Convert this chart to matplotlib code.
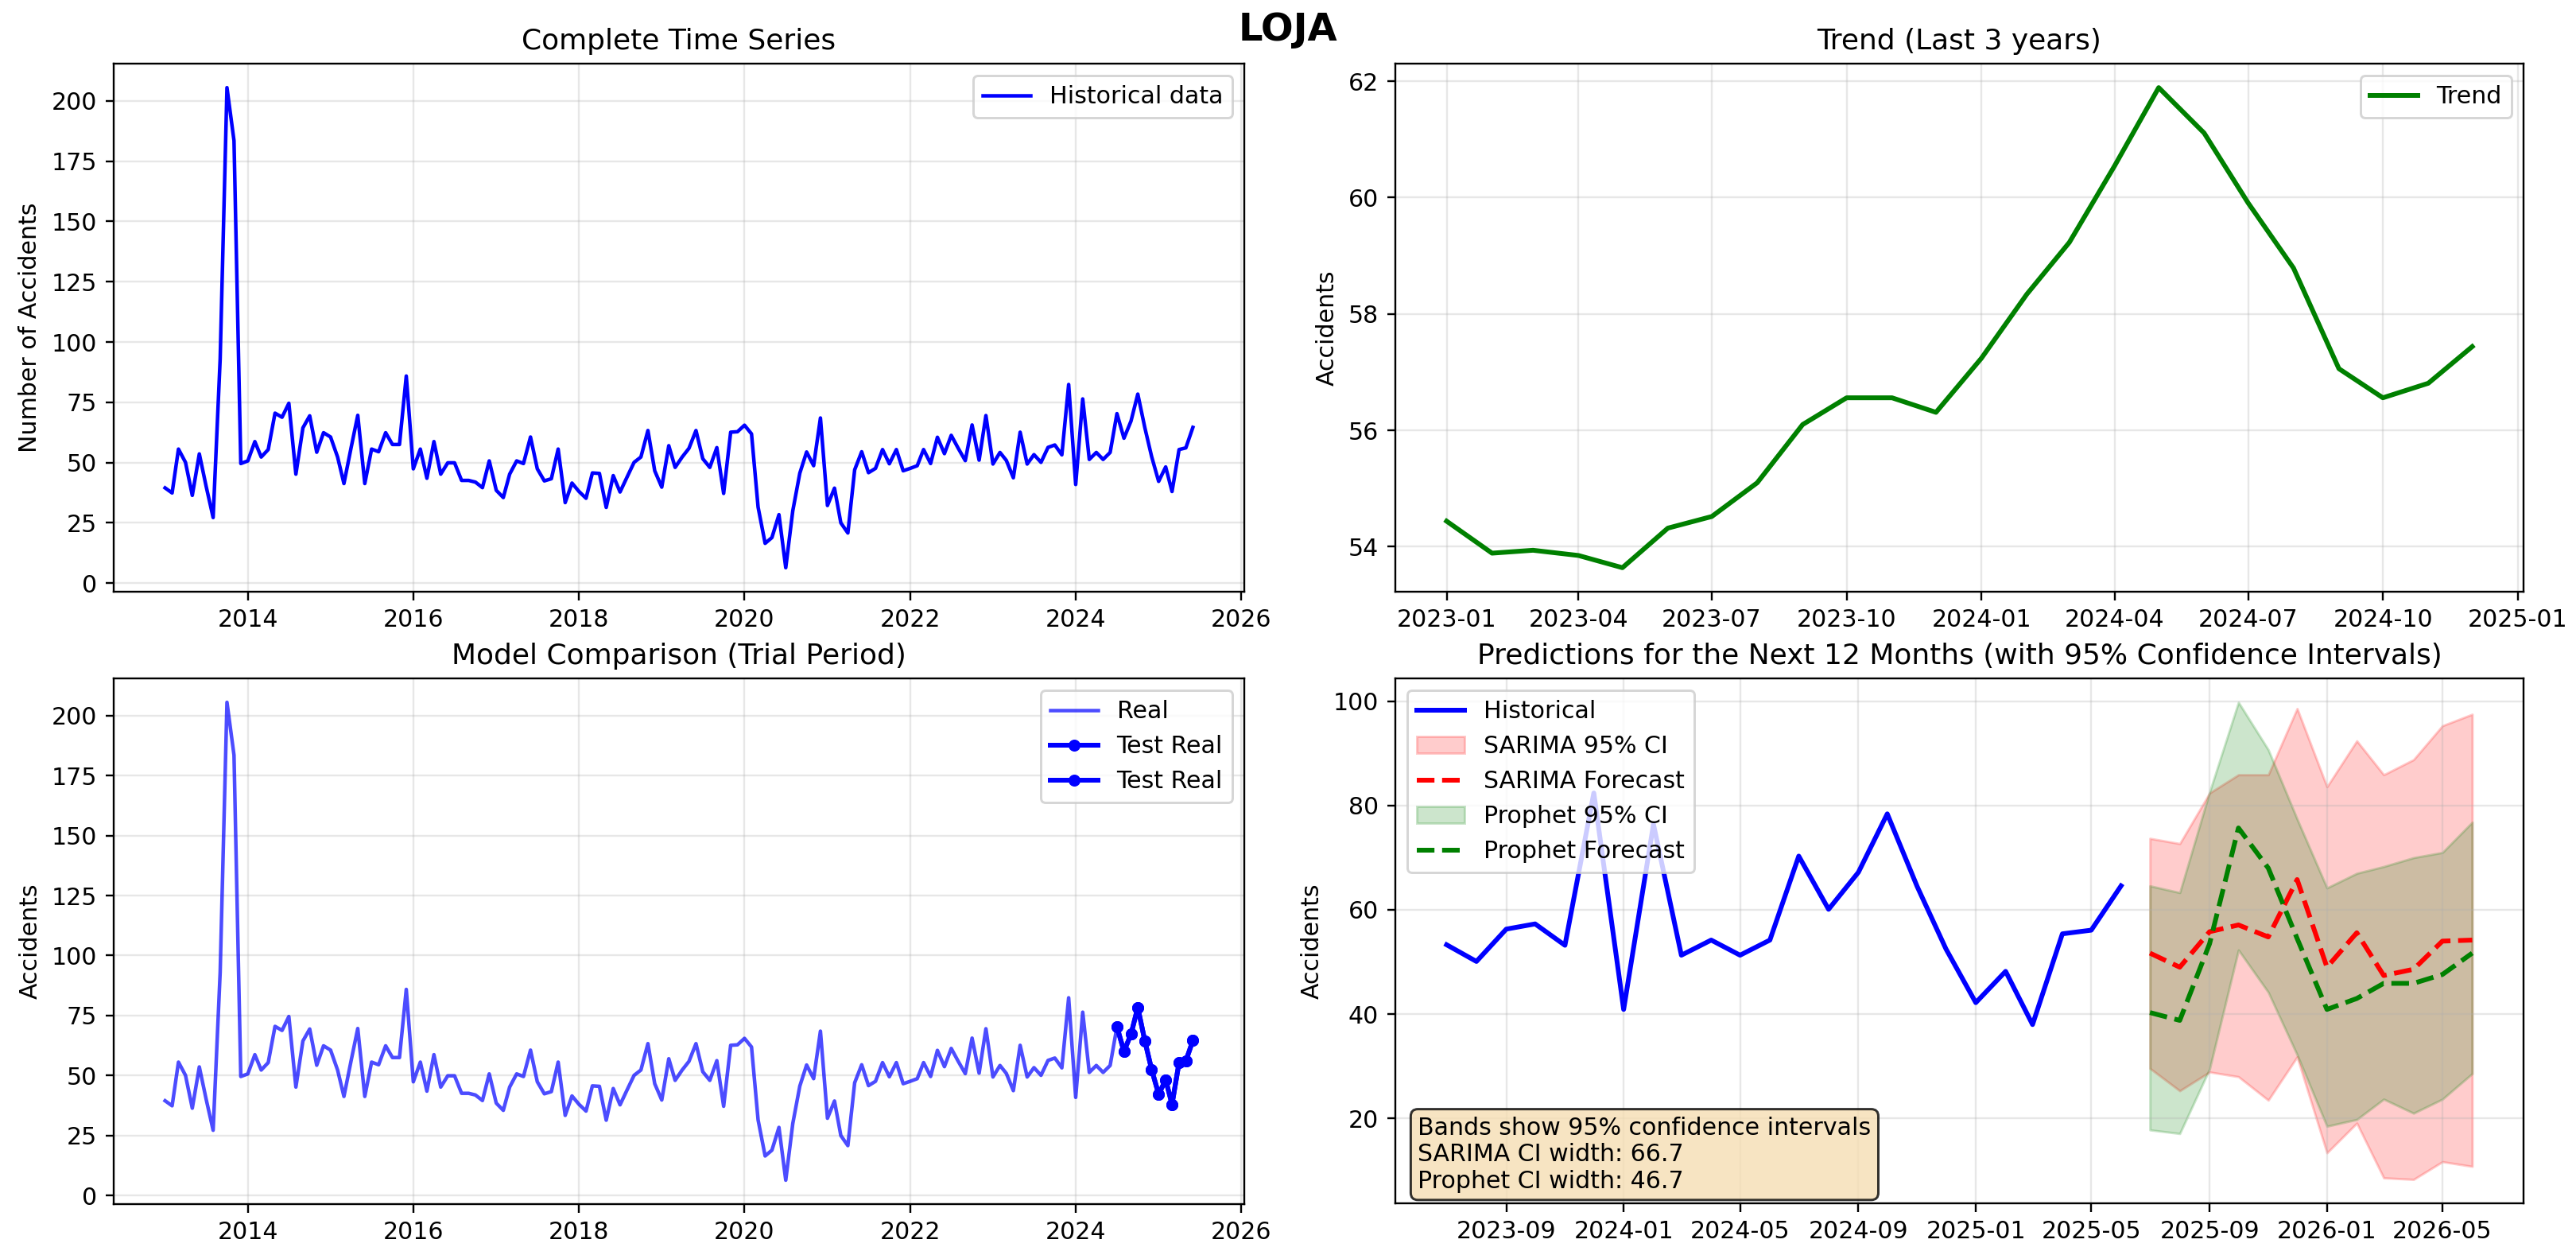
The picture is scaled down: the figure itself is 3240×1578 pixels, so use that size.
import matplotlib
matplotlib.use("Agg")
import matplotlib.pyplot as plt
import pandas as pd
import numpy as np

# ---------------- data ----------------
hist_start = "2013-01-01"
hist_values = [
    39.5, 37.4, 55.6, 50.1, 36.4, 53.6, 40.2, 27.2, 93.0, 205.5, 183.5, 49.6,   # 2013
    50.7, 58.7, 52.3, 55.4, 70.5, 68.8, 74.6, 45.2, 64.4, 69.4, 54.3, 62.4,     # 2014
    60.6, 52.3, 41.3, 55.9, 69.6, 41.3, 55.6, 54.5, 62.4, 57.5, 57.5, 85.9,     # 2015
    47.4, 55.6, 43.5, 58.7, 45.2, 49.9, 49.9, 42.6, 42.6, 41.9, 39.6, 50.7,     # 2016
    38.5, 35.5, 45.2, 50.7, 49.6, 60.6, 47.4, 42.4, 43.3, 55.6, 33.4, 41.5,     # 2017
    38.0, 35.2, 45.7, 45.5, 31.4, 44.6, 37.8, 44.0, 50.1, 52.3, 63.3, 46.6,     # 2018
    39.8, 57.0, 48.0, 52.3, 55.9, 63.3, 51.6, 48.0, 56.2, 37.2, 62.6, 62.8,     # 2019
    65.5, 61.9, 31.5, 16.5, 18.9, 28.4, 6.4, 30.0, 45.6, 54.4, 48.7, 68.5,      # 2020
    32.2, 39.4, 25.0, 20.8, 47.0, 54.5, 45.8, 47.6, 55.4, 49.5, 55.4, 46.6,     # 2021
    47.6, 48.7, 55.4, 49.6, 60.5, 53.7, 61.3, 55.9, 50.8, 65.6, 51.0, 69.5,     # 2022
    49.4, 54.2, 50.9, 43.7, 62.6, 49.4, 53.3, 50.1, 56.3, 57.3, 53.2, 82.4,     # 2023
    40.9, 76.4, 51.3, 54.2, 51.3, 54.2, 70.3, 60.1, 67.2, 78.4, 64.5, 52.5,     # 2024
    42.2, 48.2, 38.0, 55.4, 56.1, 64.6,                                         # 2025
]
test_months = 12
recent_months = 24

trend_start = "2023-01-01"
trend_values = [54.44, 53.89, 53.94, 53.85, 53.64, 54.32, 54.52, 55.10, 56.10, 56.56,
                56.56, 56.31, 57.24, 58.34, 59.23, 60.55, 61.89, 61.11, 59.91, 58.79,
                57.06, 56.56, 56.81, 57.44]

fc_start = "2025-07-01"
sarima_fc = [51.7, 49.0, 55.8, 57.1, 54.8, 65.8, 49.0, 55.6, 47.4, 48.6, 54.0, 54.2]
sarima_lo = [29.6, 25.3, 28.9, 28.0, 23.5, 31.8, 13.4, 19.1, 8.6, 8.3, 11.7, 10.8]
sarima_hi = [73.7, 72.7, 82.4, 85.9, 85.9, 98.6, 83.6, 92.4, 85.9, 88.8, 95.3, 97.5]
prophet_fc = [40.3, 38.8, 53.5, 75.7, 68.0, 54.5, 40.9, 43.0, 45.9, 45.9, 47.6, 51.7]
prophet_lo = [17.8, 17.1, 29.5, 52.3, 44.2, 32.2, 18.5, 19.8, 23.7, 21.0, 23.7, 28.6]
prophet_hi = [64.6, 63.3, 82.6, 99.8, 90.7, 77.4, 64.2, 67.0, 68.3, 70.0, 71.0, 76.8]

info_text = "Bands show 95% confidence intervals\nSARIMA CI width: 66.7\nProphet CI width: 46.7"

hist_dates = pd.date_range(hist_start, periods=len(hist_values), freq="MS")
trend_dates = pd.date_range(trend_start, periods=len(trend_values), freq="MS")
fc_dates = pd.date_range(fc_start, periods=len(sarima_fc), freq="MS")
hist = pd.Series(hist_values, index=hist_dates)
test = hist.iloc[-test_months:]
recent = hist.iloc[-recent_months:]

# ---------------- figure ----------------
W, H = 3240, 1578
dpi = 216
fig = plt.figure(figsize=(W / dpi, H / dpi), dpi=dpi)

def rect(x0, y0, x1, y1):
    return [x0 / W, 1 - y1 / H, (x1 - x0) / W, (y1 - y0) / H]

ax1 = fig.add_axes(rect(143, 80, 1565, 744))
ax2 = fig.add_axes(rect(1755, 80, 3174, 744))
ax3 = fig.add_axes(rect(143, 853, 1565, 1514))
ax4 = fig.add_axes(rect(1755, 853, 3174, 1513))

fig.text(0.5, 1 - 51 / H, "LOJA", ha="center", va="baseline",
         fontsize=16, fontweight="bold")

TITLE_FS = 12

# Complete series
ax1.plot(hist.index, hist.values, color="blue", lw=1.5, label="Historical data")
ax1.set_title("Complete Time Series", fontsize=TITLE_FS)
ax1.set_ylabel("Number of Accidents")
ax1.legend(loc="upper right")
ax1.grid(True, alpha=0.3)

# Trend
ax2.plot(trend_dates, trend_values, color="green", lw=2, label="Trend")
ax2.set_title("Trend (Last 3 years)", fontsize=TITLE_FS)
ax2.set_ylabel("Accidents")
ax2.legend(loc="upper right")
ax2.grid(True, alpha=0.3)

# Model comparison
ax3.plot(hist.index, hist.values, color="blue", alpha=0.7, lw=1.5, label="Real")
ax3.plot(test.index, test.values, "o-", color="blue", lw=2, markersize=4, label="Test Real")
ax3.plot(test.index, test.values, "o-", color="blue", lw=2, markersize=4, label="Test Real")
ax3.set_title("Model Comparison (Trial Period)", fontsize=TITLE_FS)
ax3.set_ylabel("Accidents")
ax3.legend(loc="upper right")
ax3.grid(True, alpha=0.3)

# Predictions
ax4.plot(recent.index, recent.values, "b-", lw=2, label="Historical")
ax4.fill_between(fc_dates, sarima_lo, sarima_hi, color="red", alpha=0.2, label="SARIMA 95% CI")
ax4.plot(fc_dates, sarima_fc, "r--", lw=2, label="SARIMA Forecast")
ax4.fill_between(fc_dates, prophet_lo, prophet_hi, color="green", alpha=0.2, label="Prophet 95% CI")
ax4.plot(fc_dates, prophet_fc, "g--", lw=2, label="Prophet Forecast")
ax4.set_title("Predictions for the Next 12 Months (with 95% Confidence Intervals)", fontsize=TITLE_FS)
ax4.set_ylabel("Accidents")
ax4.legend(loc="upper left")
ax4.grid(True, alpha=0.3)
ax4.text(0.02, 0.02, info_text, transform=ax4.transAxes, va="bottom", ha="left",
         fontsize=10, bbox=dict(boxstyle="round", facecolor="wheat", alpha=0.8))

fig.savefig("out.png", dpi=dpi)
